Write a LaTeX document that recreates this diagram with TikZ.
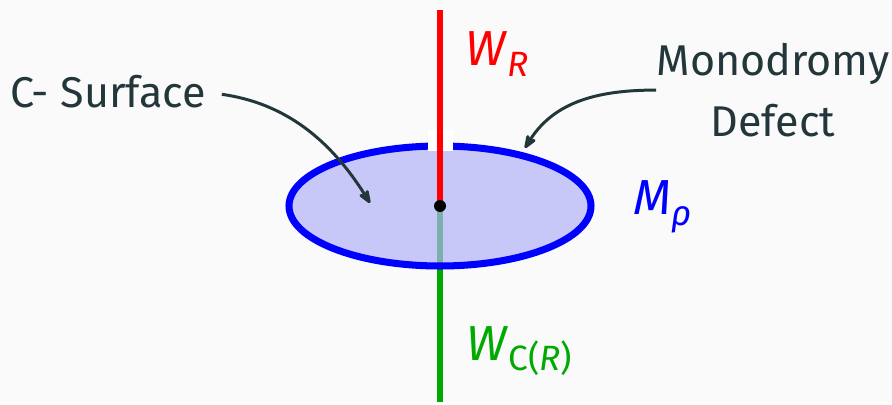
\documentclass[tikz,border=0pt]{standalone}
\usepackage{fontspec}
\setmainfont{Fira Sans}
\usepackage{tikz}
\usetikzlibrary{arrows.meta}
\definecolor{bggray}{RGB}{250,250,250}
\definecolor{darkslate}{RGB}{35,55,59}
\definecolor{wilsongreen}{RGB}{0,170,0}
\definecolor{mixteal}{RGB}{125,175,175}
\definecolor{surffill}{RGB}{200,200,248}
\newcommand{\lsub}[2]{\textit{#1}\raisebox{-0.22em}{\fontsize{20}{20}\selectfont #2}}

\begin{document}
\begin{tikzpicture}[>={Stealth[round]},
  lbl/.style={inner sep=0pt, text=darkslate, font=\fontsize{24.5}{34.5}\selectfont},
  mlbl/.style={inner sep=0pt, anchor=base west, font=\fontsize{28}{32}\selectfont},
  pointer/.style={->, draw=darkslate, line width=1.7pt}]
\fill[bggray] (0,0) rectangle (17.84,8.04);
\coordinate (ctr) at (8.8,3.92);
\coordinate (top) at (8.8,7.84);
\coordinate (bot) at (8.8,0);
\coordinate (ellbot) at (8.8,2.72);
% surface and the lines through it
\fill[surffill] (ctr) ellipse [x radius=3.02, y radius=1.2];
\draw[mixteal, line width=3.4pt] (ctr) -- (ellbot);
\draw[wilsongreen, line width=3.4pt] (ellbot) -- (bot);
\draw[blue, line width=4pt] (ctr) ellipse [x radius=3.02, y radius=1.2];
\fill[white] (8.56,5.02) rectangle (9.06,5.44);
\draw[red, line width=3.4pt] (ctr) -- (top);
\fill[black] (ctr) circle (0.12);
% labels
\node[mlbl, text=red] (wr) at (9.3,6.72) {\lsub{W}{\textit{R}}};
\node[mlbl, text=blue] (mrho) at (12.66,3.74) {\lsub{M}{\textit{ρ}}};
\node[mlbl, text=wilsongreen] (wcr) at (9.32,0.84) {\lsub{W}{C(\textit{R})}};
\node[lbl, anchor=base west] (csurf) at (0.2,5.88) {C- Surface};
\node[lbl, anchor=north, align=center] (mono) at (15.46,7.18) {Monodromy\\Defect};
% pointers
\coordinate (csurfend) at (7.4,3.98);
\coordinate (monoend) at (10.5,5.08);
\draw[pointer, shorten <=9pt] (csurf.east) to[out=-8, in=122] (csurfend);
\draw[pointer] (mono.west) to[out=180, in=58] (monoend);
\end{tikzpicture}
\end{document}
